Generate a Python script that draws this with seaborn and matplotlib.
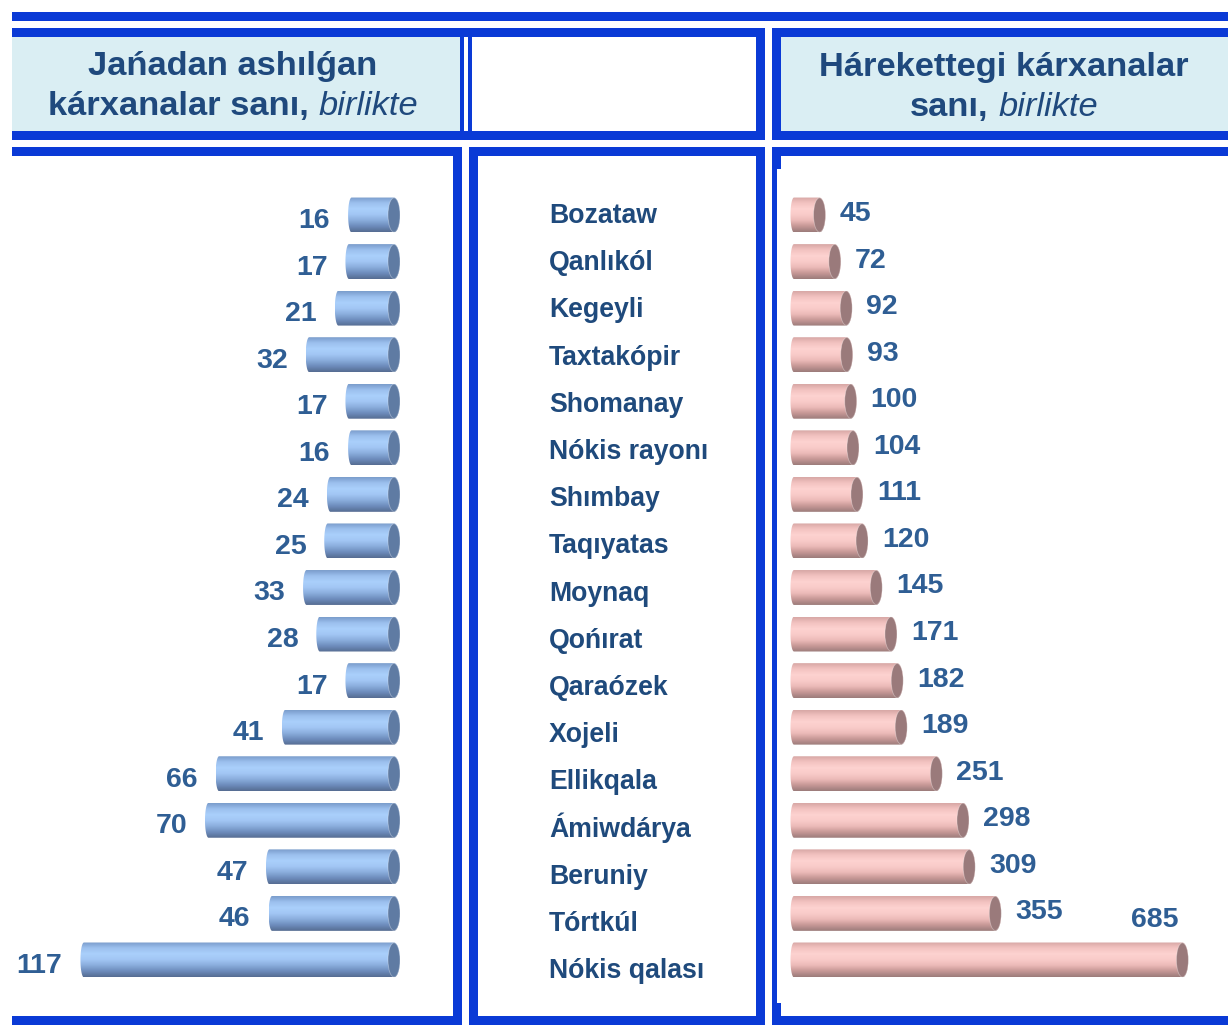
import numpy as np
import pandas as pd
import matplotlib
matplotlib.use("Agg")
import matplotlib.pyplot as plt
import seaborn as sns
from matplotlib.patches import Rectangle, Ellipse, PathPatch
from matplotlib.path import Path
from matplotlib.colors import LinearSegmentedColormap

# ---- data -------------------------------------------------------------
districts = ["Bozataw", "Qanlıkól", "Kegeyli", "Taxtakópir", "Shomanay",
             "Nókis rayonı", "Shımbay", "Taqıyatas", "Moynaq", "Qońırat",
             "Qaraózek", "Xojeli", "Ellikqala", "Ámiwdárya", "Beruniy",
             "Tórtkúl", "Nókis qalası"]
new_enterprises = [16, 17, 21, 32, 17, 16, 24, 25, 33, 28, 17, 41, 66, 70, 47, 46, 117]
active_enterprises = [45, 72, 92, 93, 100, 104, 111, 120, 145, 171, 182, 189,
                      251, 298, 309, 355, 685]

left_title = ("Jańadan ashılǵan", "kárxanalar sanı,", "birlikte")
right_title = ("Hárekettegi kárxanalar", "sanı,", "birlikte")

# ---- style ------------------------------------------------------------
sns.set_theme(style="white")
plt.rcParams["font.family"] = ["Liberation Sans", "DejaVu Sans"]

FRAME = "#0a3ad6"
HEAD_BG = "#daeef3"
HEAD_TXT = "#1f497d"
CAT_TXT = "#1f4a7c"
VAL_TXT = "#2f5e94"

BLUE_BODY = ["#7b9dcc", "#9cc0ee", "#aad0fb", "#a2c6f4", "#8aaddc", "#6d8cbc", "#566d92"]
BLUE_CAP = "#5f7ba3"
PINK_BODY = ["#d8a8a6", "#f3c3c1", "#fdd2d0", "#f9cbc9", "#ecbab8", "#c69896", "#9c7c7b"]
PINK_CAP = "#9a7a7b"

W, H = 1228, 1030
fig = plt.figure(figsize=(W / 100, H / 100), dpi=100)


def frac(x0, y0, x1, y1):
    return [x0 / W, 1 - y1 / H, (x1 - x0) / W, (y1 - y0) / H]


ROW0, ROWSTEP = 215.0, 46.56
CAP_PX, END_PX = 6.0, 3.5
PPU_L, ZERO_L = 2.65, 394.0     # pixels per unit, zero position (left panel)
PPU_R, ZERO_R = 0.567, 794.0    # pixels per unit, zero position (right panel)
PANEL_TOP, PANEL_BOT = 156, 1016
VAL_FS = 20.5

df = pd.DataFrame({"district": districts,
                   "new": new_enterprises,
                   "active": active_enterprises})

ax_l = fig.add_axes(frac(12, PANEL_TOP, 453, PANEL_BOT))
ax_r = fig.add_axes(frac(781, PANEL_TOP, 1228, PANEL_BOT))

sns.barplot(data=df, x="new", y="district", orient="h", ax=ax_l, width=0.75,
            color=BLUE_BODY[2], saturation=1, errorbar=None)
sns.barplot(data=df, x="active", y="district", orient="h", ax=ax_r, width=0.75,
            color=PINK_BODY[2], saturation=1, errorbar=None)


def cylinders(ax, values, ppu, sgn, body, cap_color, label_right):
    """Turn the flat seaborn bars into shaded cylinders with an end cap."""
    grad = LinearSegmentedColormap.from_list("body", body)(np.linspace(0, 1, 96))[:, None, :]
    er, el = CAP_PX / ppu, END_PX / ppu
    t = np.linspace(-np.pi / 2, np.pi / 2, 48)
    vmax = max(values)
    for p, v in zip(list(ax.patches), values):
        x0, w = p.get_x(), p.get_width()
        y0, h = p.get_y(), p.get_height()
        a, b = x0, x0 + w
        if sgn > 0:
            left, right = min(a, b), max(a, b)
        else:
            left, right = max(a, b), min(a, b)
        yc, ry = y0 + h / 2, h / 2
        xs = np.r_[right + sgn * er * np.cos(t), left - sgn * el * np.cos(t[::-1])]
        ys = np.r_[yc + ry * np.sin(t), yc + ry * np.sin(t[::-1])]
        verts = np.column_stack([xs, ys])
        shape = PathPatch(Path(np.vstack([verts, verts[:1]]), closed=True),
                          facecolor="none", edgecolor="none", transform=ax.transData)
        ax.add_patch(shape)
        xa, xb = sorted([left - sgn * el, right + sgn * er])
        img = ax.imshow(grad, extent=[xa, xb, yc + ry, yc - ry], aspect="auto",
                        interpolation="bilinear", zorder=2)
        img.set_clip_path(shape)
        ax.add_patch(Ellipse((right, yc), 2 * er, h * 0.98, facecolor=cap_color,
                             edgecolor="#ffffff55", lw=0.6, zorder=3))
        p.set_visible(False)

        lab = dict(textcoords="offset pixels", va="baseline", fontsize=VAL_FS,
                   fontweight="bold", color=VAL_TXT, annotation_clip=False)
        if not label_right:
            ax.annotate(f"{v}", xy=(left, yc), xytext=(-(END_PX + 18), -13),
                        ha="right", **lab)
        elif v == vmax:
            ax.annotate(f"{v}", xy=(right, yc), xytext=(-4, 33), ha="right", **lab)
        else:
            ax.annotate(f"{v}", xy=(right, yc), xytext=(CAP_PX + 14, -6),
                        ha="left", **lab)


cylinders(ax_l, new_enterprises, PPU_L, -1, BLUE_BODY, BLUE_CAP, label_right=False)
cylinders(ax_r, active_enterprises, PPU_R, +1, PINK_BODY, PINK_CAP, label_right=True)

row_top = (PANEL_TOP - ROW0) / ROWSTEP
row_bot = (PANEL_BOT - ROW0) / ROWSTEP
ax_l.set_xlim((ZERO_L - 12) / PPU_L, (ZERO_L - 453) / PPU_L)
ax_r.set_xlim((781 - ZERO_R) / PPU_R, (1228 - ZERO_R) / PPU_R)
for ax in (ax_l, ax_r):
    ax.set_ylim(row_bot, row_top)
    ax.axis("off")

# ---- frame, headers and district names (pixel coordinates) ------------
ov = fig.add_axes([0, 0, 1, 1])
ov.set_xlim(0, W)
ov.set_ylim(H, 0)
ov.axis("off")
ov.set_zorder(5)


def box(x, y, w, h, color=FRAME):
    ov.add_patch(Rectangle((x, y), w, h, facecolor=color, edgecolor="none", lw=0))


# header fills
box(12, 37, 448, 94, HEAD_BG)
box(781, 37, 447, 94, HEAD_BG)
# top rule
box(12, 12, 1216, 9)
# header frames
box(12, 28, 753, 9)
box(12, 131, 753, 9)
box(460, 37, 4, 94)
box(468, 37, 4, 94)
box(756, 28, 9, 112)
box(772, 28, 456, 9)
box(772, 131, 456, 9)
box(772, 28, 9, 112)
# lower panels
box(12, 147, 450, 9)
box(453, 147, 9, 878)
box(12, 1016, 450, 9)
box(469, 147, 296, 9)
box(469, 147, 9, 878)
box(756, 147, 9, 878)
box(469, 1016, 296, 9)
box(772, 147, 456, 9)
box(772, 147, 5, 878)
box(777, 147, 4, 22)
box(777, 1003, 4, 22)
box(772, 1016, 456, 9)

HS = 24.8
renderer = fig.canvas.get_renderer()


def header(cx, lines, base1, base2):
    line1, bold2, ital2 = lines
    ov.text(cx, base1, line1, ha="center", va="baseline", fontsize=HS,
            fontweight="bold", color=HEAD_TXT)
    t1 = ov.text(0, base2, bold2, ha="left", va="baseline", fontsize=HS,
                 fontweight="bold", color=HEAD_TXT)
    t2 = ov.text(0, base2, ital2, ha="left", va="baseline", fontsize=HS,
                 style="italic", color=HEAD_TXT)
    w1 = t1.get_window_extent(renderer).width
    w2 = t2.get_window_extent(renderer).width
    gap = 0.278 * HS * 100 / 72
    start = cx - (w1 + gap + w2) / 2
    t1.set_x(start)
    t2.set_x(start + w1 + gap)


header(233, left_title, 75, 115)
header(1004, right_title, 76, 116)

for i, name in enumerate(districts):
    ov.text(549, 223 + 47.2 * i, name, ha="left", va="baseline", fontsize=19.2,
            fontweight="bold", color=CAT_TXT)

fig.savefig("out.png", dpi=100)
